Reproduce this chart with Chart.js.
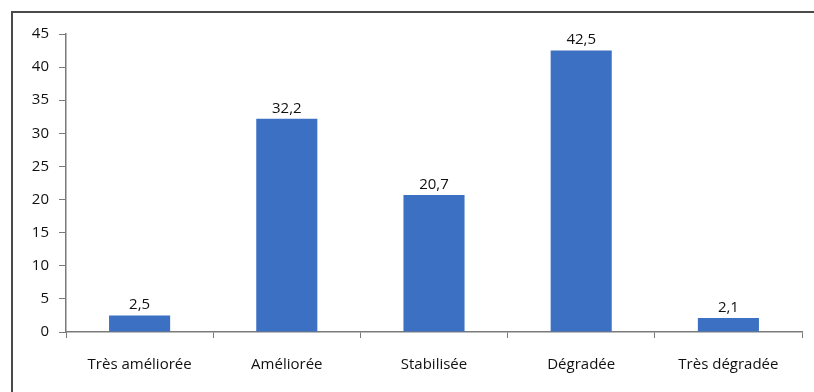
<!DOCTYPE html>
<html>
<head>
<meta charset="utf-8">
<script src="https://cdn.jsdelivr.net/npm/chart.js@4"></script>
<style>
  html, body { margin: 0; padding: 0; background: #fff; }
  #wrap { position: relative; width: 814px; height: 392px; overflow: hidden; }
  #frame { position: absolute; left: 11px; top: 11px; width: 900px; height: 500px;
           border-left: 2px solid #4a4a4a; border-top: 2px solid #4a4a4a; }
  canvas { position: absolute; left: 0; top: 0; }
</style>
</head>
<body>
<div id="wrap">
  <div id="frame"></div>
  <canvas id="c" width="814" height="392"></canvas>
</div>
<script>
const categories = ["Très améliorée", "Améliorée", "Stabilisée", "Dégradée", "Très dégradée"];
const values = [2.5, 32.2, 20.7, 42.5, 2.1];
const yTicks = [0, 5, 10, 15, 20, 25, 30, 35, 40, 45];

const FONT = "'Open Sans', sans-serif";

// Writes each bar's value (French decimal comma) just above its top
const valueLabels = {
  id: 'valueLabels',
  afterDatasetsDraw(chart) {
    const ctx = chart.ctx;
    const meta = chart.getDatasetMeta(0);
    ctx.save();
    ctx.font = "15px " + FONT;
    ctx.fillStyle = '#111';
    ctx.textAlign = 'center';
    ctx.textBaseline = 'bottom';
    meta.data.forEach((bar, i) => {
      const txt = values[i].toFixed(1).replace('.', ',');
      ctx.fillText(txt, bar.x, bar.y - 3);
    });
    ctx.restore();
  }
};

new Chart(document.getElementById('c'), {
  type: 'bar',
  data: {
    labels: categories,
    datasets: [{
      data: values,
      backgroundColor: '#3c70c3',
      borderWidth: 0,
      categoryPercentage: 0.415,
      barPercentage: 1
    }]
  },
  options: {
    responsive: false,
    animation: false,
    layout: { padding: { top: 34, right: 12, bottom: 0, left: 0 } },
    plugins: { legend: { display: false }, tooltip: { enabled: false } },
    scales: {
      x: {
        offset: true,
        grid: { offset: true, drawOnChartArea: false, drawTicks: true, tickLength: 6, color: '#7a7a7a' },
        border: { color: '#7a7a7a', width: 1.5 },
        ticks: { color: '#111', font: { family: FONT, size: 15 }, padding: 18, maxRotation: 0 },
        afterFit(s) { s.height = 60; }
      },
      y: {
        min: 0, max: 45,
        afterBuildTicks(s) { s.ticks = yTicks.map(v => ({ value: v })); },
        grid: { drawOnChartArea: false, drawTicks: true, tickLength: 7, color: '#7a7a7a' },
        border: { color: '#7a7a7a', width: 1.5 },
        ticks: { color: '#111', font: { family: FONT, size: 15 }, padding: 10 },
        afterFit(s) { s.width = 66; }
      }
    }
  },
  plugins: [valueLabels]
});
</script>
</body>
</html>
